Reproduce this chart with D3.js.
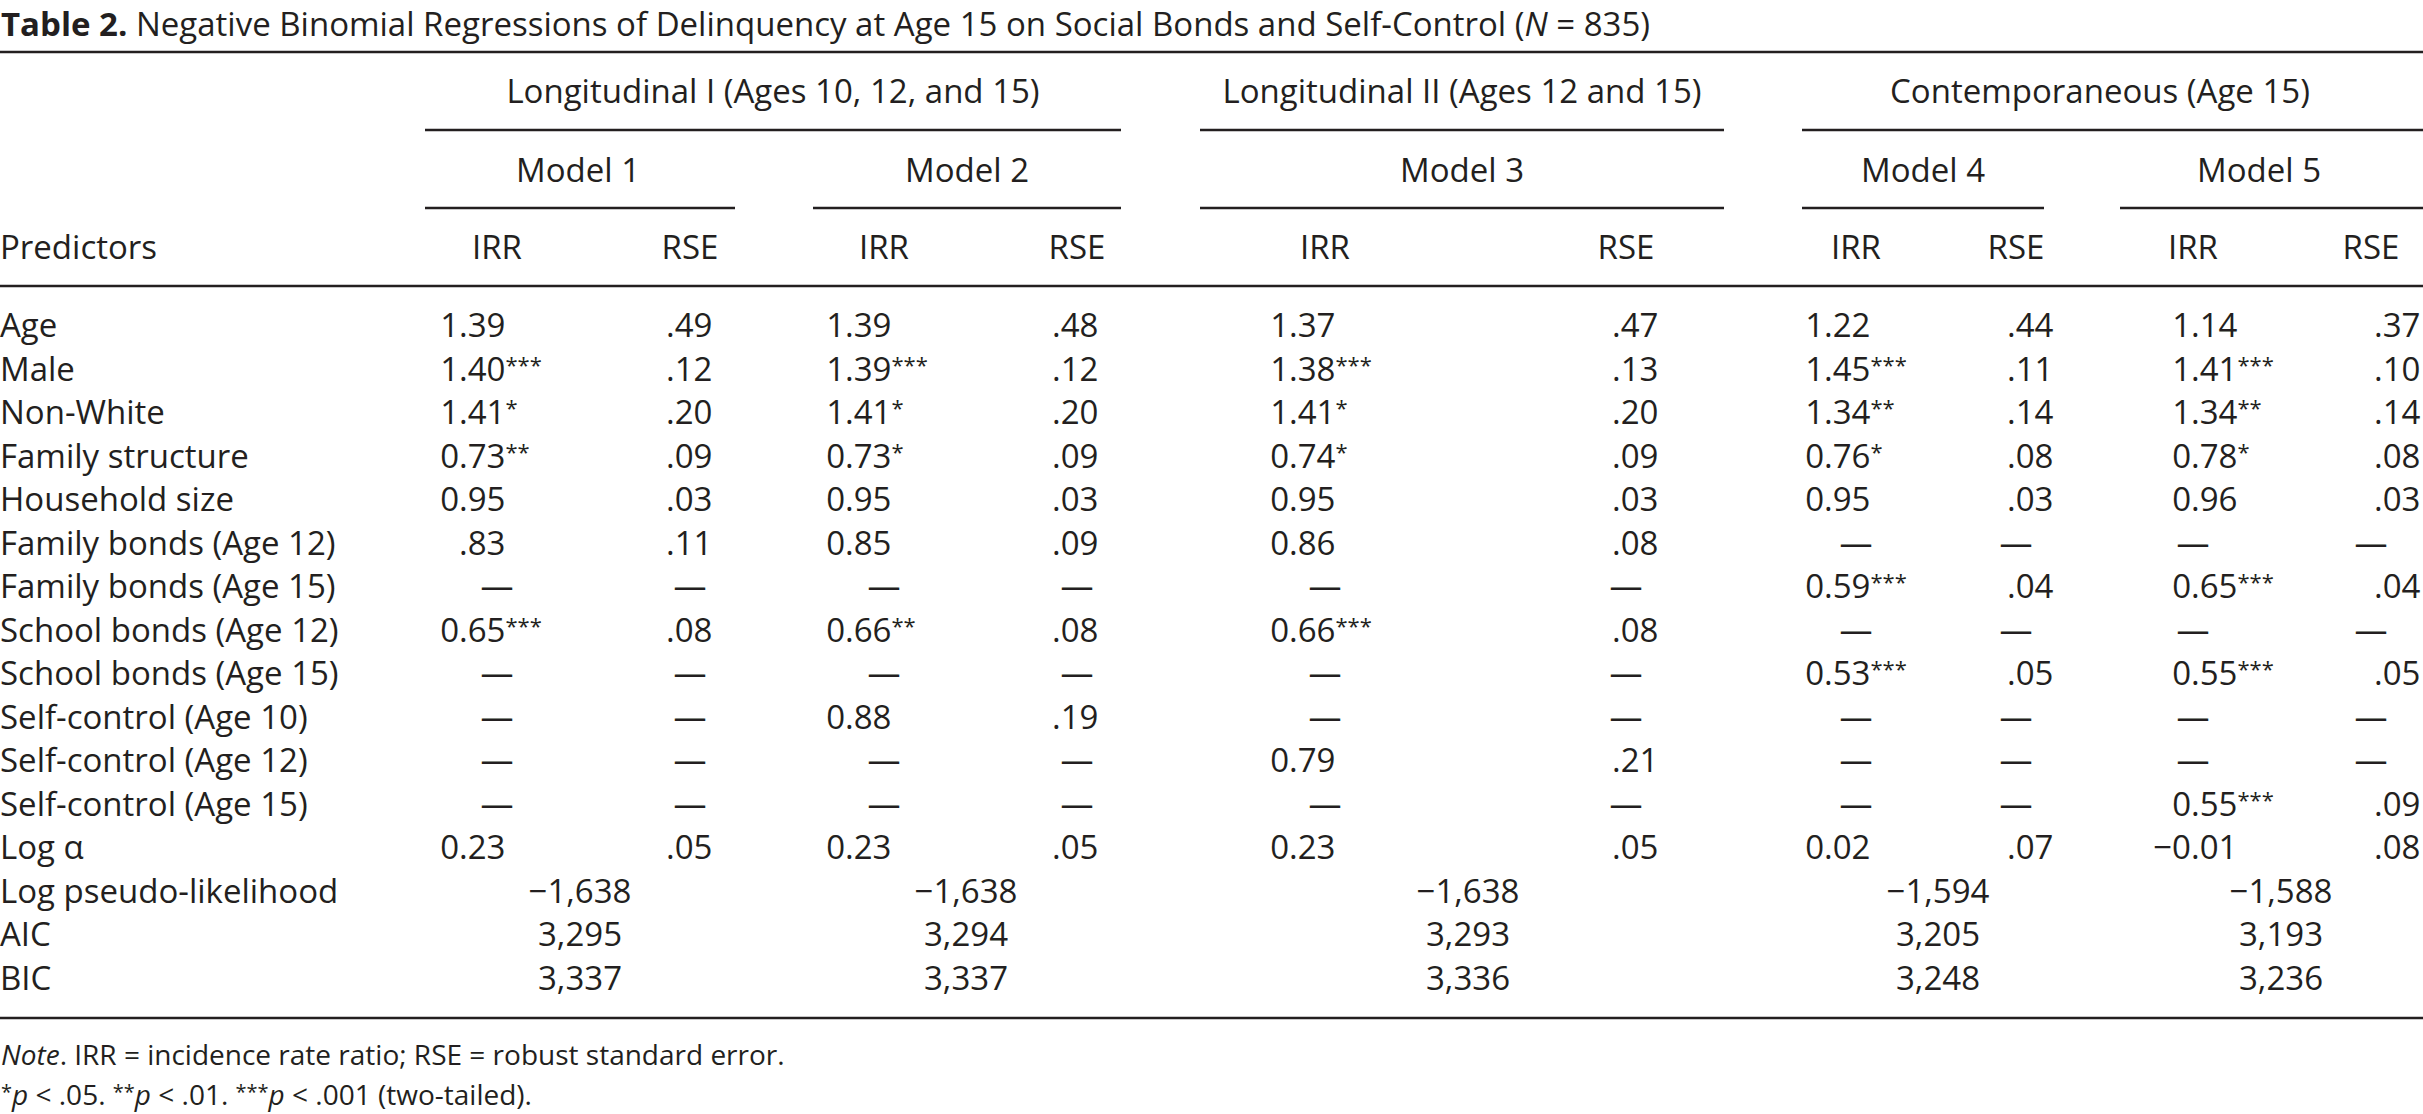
<!DOCTYPE html>
<html>
<head>
  <meta charset="utf-8">
  <title>Table 2</title>
  <script src="https://d3js.org/d3.v7.min.js" charset="utf-8"></script>
  <style type="text/css">
    body { margin: 0; background: #fff; }
    svg { display: block; }
    text { font-family: "Open Sans", "Noto Sans", sans-serif; fill: #231f20; }
  </style>
</head>
<body>
<script>

var width = 2423;
var height = 1114;
var ink = "#231f20";

// table content
var groups = ["Longitudinal I (Ages 10, 12, and 15)", "Longitudinal II (Ages 12 and 15)", "Contemporaneous (Age 15)"];
var models = ["Model 1", "Model 2", "Model 3", "Model 4", "Model 5"];
var predictors = ["Age", "Male", "Non-White", "Family structure", "Household size",
  "Family bonds (Age 12)", "Family bonds (Age 15)", "School bonds (Age 12)", "School bonds (Age 15)",
  "Self-control (Age 10)", "Self-control (Age 12)", "Self-control (Age 15)", "Log \u03b1"];
var summaryLabels = ["Log pseudo-likelihood", "AIC", "BIC"];

var irrM1 = ["1.39", "1.40***", "1.41*", "0.73**", "0.95", ".83", "—", "0.65***", "—", "—", "—", "—", "0.23"];
var rseM1 = [".49", ".12", ".20", ".09", ".03", ".11", "—", ".08", "—", "—", "—", "—", ".05"];
var irrM2 = ["1.39", "1.39***", "1.41*", "0.73*", "0.95", "0.85", "—", "0.66**", "—", "0.88", "—", "—", "0.23"];
var rseM2 = [".48", ".12", ".20", ".09", ".03", ".09", "—", ".08", "—", ".19", "—", "—", ".05"];
var irrM3 = ["1.37", "1.38***", "1.41*", "0.74*", "0.95", "0.86", "—", "0.66***", "—", "—", "0.79", "—", "0.23"];
var rseM3 = [".47", ".13", ".20", ".09", ".03", ".08", "—", ".08", "—", "—", ".21", "—", ".05"];
var irrM4 = ["1.22", "1.45***", "1.34**", "0.76*", "0.95", "—", "0.59***", "—", "0.53***", "—", "—", "—", "0.02"];
var rseM4 = [".44", ".11", ".14", ".08", ".03", "—", ".04", "—", ".05", "—", "—", "—", ".07"];
var irrM5 = ["1.14", "1.41***", "1.34**", "0.78*", "0.96", "—", "0.65***", "—", "0.55***", "—", "—", "0.55***", "\u22120.01"];
var rseM5 = [".37", ".10", ".14", ".08", ".03", "—", ".04", "—", ".05", "—", "—", ".09", ".08"];

var logLik = [-1638, -1638, -1638, -1594, -1588];
var aic = [3295, 3294, 3293, 3205, 3193];
var bic = [3337, 3337, 3336, 3248, 3236];

var irrCols = [irrM1, irrM2, irrM3, irrM4, irrM5];
var rseCols = [rseM1, rseM2, rseM3, rseM4, rseM5];
var summaries = [logLik, aic, bic];

// layout
var bodySize = 33, titleSize = 33, noteSize = 28;

var xIrrDec = d3.scaleOrdinal().domain(models).range([459, 845, 1289, 1824, 2191]);
var xRseDec = d3.scaleOrdinal().domain(models).range([666, 1052, 1612, 2007, 2374]);
var xIrrMid = d3.scaleOrdinal().domain(models).range([497, 884, 1325, 1856, 2193]);
var xRseMid = d3.scaleOrdinal().domain(models).range([690, 1077, 1626, 2016, 2371]);
var xSummary = d3.scaleOrdinal().domain(models).range([580, 966, 1468, 1938, 2281]);
var xModelMid = d3.scaleOrdinal().domain(models).range([578, 967, 1462, 1923, 2259]);
var modelSpan = d3.scaleOrdinal().domain(models).range([[425, 735], [813, 1121], [1200, 1724], [1802, 2044], [2120, 2423]]);
var groupSpan = d3.scaleOrdinal().domain(groups).range([[425, 1121], [1200, 1724], [1802, 2423]]);
var xGroupMid = d3.scaleOrdinal().domain(groups).range([773, 1462, 2100]);

var nRows = predictors.length + summaryLabels.length;
var y = d3.scaleLinear().domain([0, nRows - 1]).range([337, 990]);

var fmt = d3.format(",");

var svg = d3.select("body").append("svg").attr("width", width).attr("height", height);

// rules
function rule(x1, x2, yy) {
  svg.append("line").attr("x1", x1).attr("x2", x2).attr("y1", yy).attr("y2", yy)
    .attr("stroke", ink).attr("stroke-width", 2.5);
}
rule(0, width, 52);
groups.forEach(function (g) { rule(groupSpan(g)[0], groupSpan(g)[1], 130); });
models.forEach(function (m) { rule(modelSpan(m)[0], modelSpan(m)[1], 208); });
rule(0, width, 286);
rule(0, width, 1018);

// title
var title = svg.append("text").attr("x", 1).attr("y", 36).attr("font-size", titleSize);
title.append("tspan").attr("font-weight", "bold").text("Table 2.");
title.append("tspan").text(" Negative Binomial Regressions of Delinquency at Age 15 on Social Bonds and Self-Control (");
title.append("tspan").attr("font-style", "italic").text("N");
title.append("tspan").text(" = 835)");

// column headers
svg.selectAll("text.group").data(groups).enter().append("text")
  .attr("class", "group")
  .attr("x", function (d) { return xGroupMid(d); })
  .attr("y", 103)
  .attr("text-anchor", "middle")
  .attr("font-size", bodySize)
  .text(function (d) { return d; });

svg.selectAll("text.model").data(models).enter().append("text")
  .attr("class", "model")
  .attr("x", function (d) { return xModelMid(d); })
  .attr("y", 182)
  .attr("text-anchor", "middle")
  .attr("font-size", bodySize)
  .text(function (d) { return d; });

svg.append("text").attr("x", 0).attr("y", 259).attr("font-size", bodySize).text("Predictors");
models.forEach(function (m) {
  svg.append("text").attr("x", xIrrMid(m)).attr("y", 259).attr("text-anchor", "middle")
    .attr("font-size", bodySize).text("IRR");
  svg.append("text").attr("x", xRseMid(m)).attr("y", 259).attr("text-anchor", "middle")
    .attr("font-size", bodySize).text("RSE");
});

// row labels
svg.selectAll("text.label").data(predictors.concat(summaryLabels)).enter().append("text")
  .attr("class", "label")
  .attr("x", 0)
  .attr("y", function (d, i) { return y(i); })
  .attr("font-size", bodySize)
  .text(function (d) { return d; });

// one cell: dash centred, numbers aligned on the decimal point, stars raised
function cell(value, row, xDec, xMid) {
  var yy = y(row);
  if (value === "—") {
    svg.append("text").attr("x", xMid).attr("y", yy).attr("text-anchor", "middle")
      .attr("font-size", bodySize).text("—");
    return;
  }
  var stars = (value.match(/\*+$/) || [""])[0];
  var num = value.slice(0, value.length - stars.length);
  var cut = num.indexOf(".");
  var whole = num.slice(0, cut), frac = num.slice(cut);
  if (whole.length) {
    svg.append("text").attr("x", xDec).attr("y", yy).attr("text-anchor", "end")
      .attr("font-size", bodySize).text(whole);
  }
  var t = svg.append("text").attr("x", xDec).attr("y", yy).attr("font-size", bodySize);
  t.append("tspan").text(frac);
  if (stars.length) {
    t.append("tspan").attr("font-size", 22).attr("dy", -8).text(stars);
  }
}

models.forEach(function (m, j) {
  irrCols[j].forEach(function (v, i) { cell(v, i, xIrrDec(m), xIrrMid(m)); });
  rseCols[j].forEach(function (v, i) { cell(v, i, xRseDec(m), xRseMid(m)); });
  summaries.forEach(function (s, k) {
    svg.append("text")
      .attr("x", xSummary(m))
      .attr("y", y(predictors.length + k))
      .attr("text-anchor", "middle")
      .attr("font-size", bodySize)
      .text(fmt(s[j]));
  });
});

// notes
var note = svg.append("text").attr("x", 1).attr("y", 1065).attr("font-size", noteSize);
note.append("tspan").attr("font-style", "italic").text("Note");
note.append("tspan").text(". IRR = incidence rate ratio; RSE = robust standard error.");

var foot = svg.append("text").attr("x", 1).attr("y", 1105).attr("font-size", noteSize);
[["*", ".05. "], ["**", ".01. "], ["***", ".001 (two-tailed)."]].forEach(function (p) {
  foot.append("tspan").attr("font-size", 20).attr("dy", -6).text(p[0]);
  foot.append("tspan").attr("font-style", "italic").attr("dy", 6).text("p");
  foot.append("tspan").text(" < " + p[1]);
});

</script>
</body>
</html>
